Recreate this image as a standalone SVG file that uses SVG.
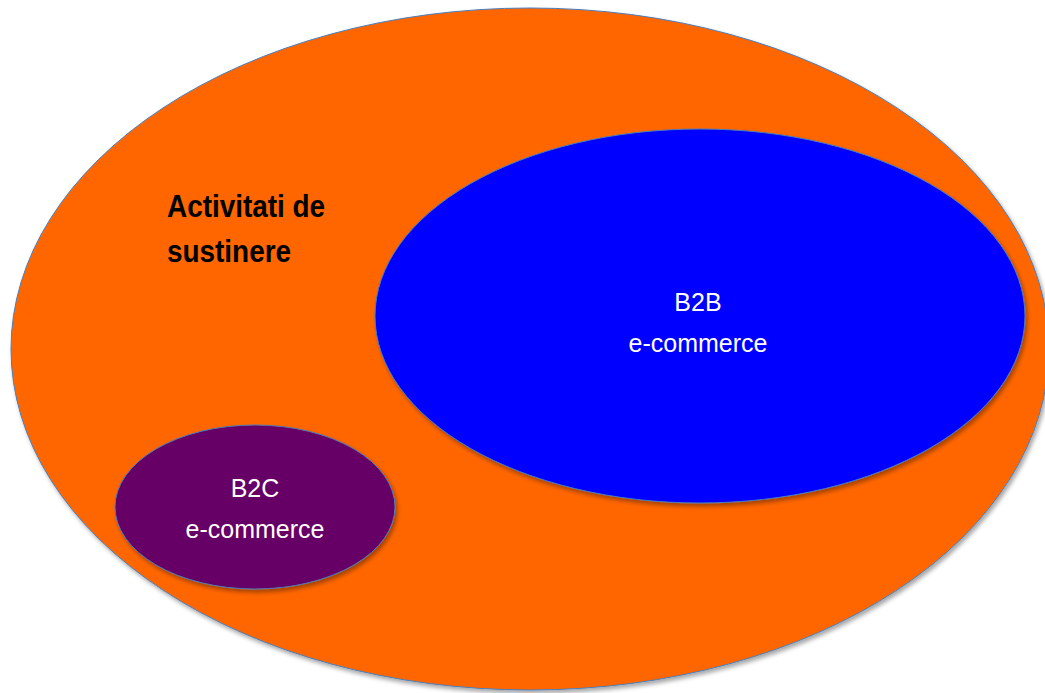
<svg xmlns="http://www.w3.org/2000/svg" width="1045" height="693" viewBox="0 0 1045 693">
  <style>
    .shape { stroke: #4a7ebb; stroke-width: 1; filter: url(#shadow); }
    .label { font-family: "Liberation Sans", Arial, sans-serif; font-size: 25px; fill: #ffffff; text-anchor: middle; }
    .title { font-family: "Liberation Sans", Arial, sans-serif; font-size: 31px; font-weight: bold; fill: #000000; }
  </style>
  <defs>
    <filter id="shadow" x="-10%" y="-10%" width="120%" height="120%">
      <feDropShadow dx="2" dy="3" stdDeviation="2" flood-color="#000000" flood-opacity="0.35"/>
    </filter>
  </defs>
  <rect width="1045" height="693" fill="#ffffff"/>
  <g id="support">
    <ellipse class="shape" cx="530" cy="349" rx="519" ry="341" fill="#ff6600"/>
    <g transform="translate(167,0) scale(0.9,1)">
      <text class="title" x="0" y="217">Activitati de</text>
      <text class="title" x="0" y="262">sustinere</text>
    </g>
  </g>
  <g id="b2b">
    <ellipse class="shape" cx="700" cy="316" rx="325" ry="187" fill="#0000ff"/>
    <text class="label" x="698" y="311">B2B</text>
    <text class="label" x="698" y="352">e-commerce</text>
  </g>
  <g id="b2c">
    <ellipse class="shape" cx="255" cy="507" rx="140" ry="82" fill="#660066"/>
    <text class="label" x="255" y="497">B2C</text>
    <text class="label" x="255" y="538">e-commerce</text>
  </g>
  <g id="connectors"/>
</svg>
